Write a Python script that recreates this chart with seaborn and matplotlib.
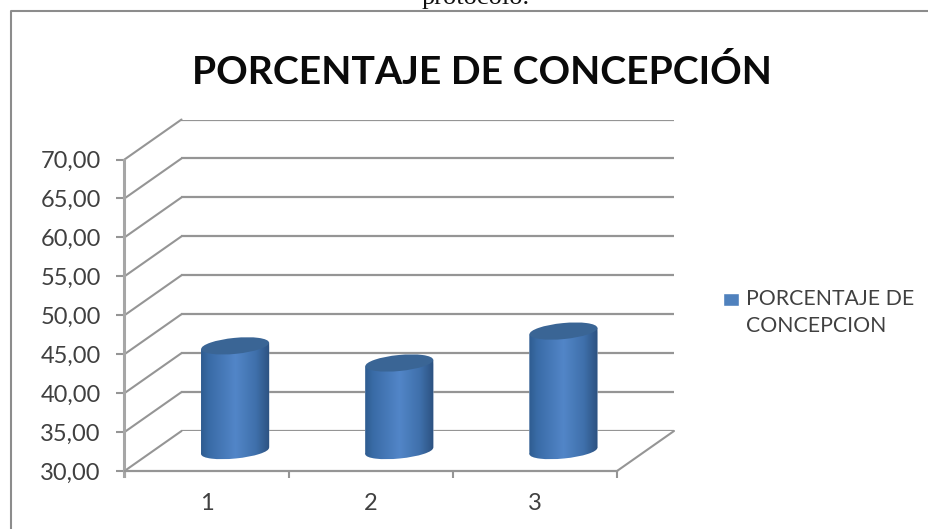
import numpy as np
import pandas as pd
import seaborn as sns
import matplotlib
matplotlib.use("Agg")
import matplotlib.pyplot as plt
from matplotlib.colors import LinearSegmentedColormap
from matplotlib.lines import Line2D
from matplotlib.patches import ConnectionPatch, Ellipse
from matplotlib.path import Path
from matplotlib.transforms import IdentityTransform

categories = ["1", "2", "3"]
values = [43.5, 41.3, 45.4]
y_ticks = [30, 35, 40, 45, 50, 55, 60, 65, 70]
y_tick_labels = ["30,00", "35,00", "40,00", "45,00", "50,00", "55,00", "60,00", "65,00", "70,00"]
title = "PORCENTAJE DE CONCEPCIÓN"
legend_label = "PORCENTAJE DE\nCONCEPCION"
caption = "protocolo."

W, H = 929, 529
sns.set_style("white")
plt.rcParams["font.family"] = ["Lato", "DejaVu Sans"]
GRID = "#959595"
TEXT = "#404040"

fig = plt.figure(figsize=(W / 100, H / 100), dpi=100, facecolor="white")


def axes_px(left, right, top, bottom):
    return fig.add_axes([left / W, 1 - bottom / H, (right - left) / W, (bottom - top) / H])


L, R, T, B = 124.5, 617, 159.5, 471
DX, DY = 57, 40

# back wall
back = axes_px(L + DX, R + DX, T - DY, B - DY)
back.set_zorder(1)
back.set_ylim(30, 70)
back.set_xlim(-0.5, 2.5)
back.set_yticks(y_ticks)
back.set_xticks([])
back.set_yticklabels([])
back.grid(axis="y", color=GRID, lw=1.6)
back.grid(axis="x", visible=False)
back.patch.set_alpha(0)
sns.despine(ax=back, left=True, bottom=True)

# front plane with axes and ticks
ax = axes_px(L, R, T, B)
ax.set_zorder(2)
ax.patch.set_alpha(0)
ax.set_ylim(30, 70)
ax.set_xlim(-0.5, 2.5)
ax.set_yticks(y_ticks)
ax.set_yticklabels(y_tick_labels, fontsize=17, color=TEXT)
ax.set_xticks([-0.5, 0.5, 1.5, 2.5])
ax.set_xticklabels([])
ax.set_xticks([0, 1, 2], categories, minor=True, fontsize=17, color=TEXT)
ax.tick_params(axis="y", length=6, width=1.5, color=GRID, pad=11, left=True)
ax.tick_params(axis="x", which="major", length=5, width=1.5, color=GRID, bottom=True)
ax.tick_params(axis="x", which="minor", length=0, pad=16)
sns.despine(ax=ax)
ax.spines["left"].set(color="#a6a6a6", lw=2.2)
ax.spines["left"].set_bounds(29.3, 70)
ax.spines["bottom"].set(color=GRID, lw=1.6)

# depth connectors
for v in y_ticks:
    fig.add_artist(ConnectionPatch((-0.5, v), (-0.5, v), coordsA=ax.transData, coordsB=back.transData,
                                   color=GRID, lw=1.5, zorder=1.5))
fig.add_artist(ConnectionPatch((2.5, 30), (2.5, 30), coordsA=ax.transData, coordsB=back.transData,
                               color=GRID, lw=1.5, zorder=1.5))

# mid-depth plane with the cylinders
bars = axes_px(L + DX / 2, R + DX / 2, T - DY / 2, B - DY / 2)
bars.set_zorder(5)
bars.patch.set_alpha(0)
df = pd.DataFrame({"Muestra": categories, "Porcentaje": values})
sns.barplot(data=df, x="Muestra", y="Porcentaje", ax=bars, color="#4F81BD", width=0.415,
            saturation=1, label=legend_label)
legend_handles, legend_labels = bars.get_legend_handles_labels()
if bars.get_legend():
    bars.get_legend().remove()
bars.set_xlim(-0.5, 2.5)
bars.set_ylim(30, 70)
bars.axis("off")

cmap = LinearSegmentedColormap.from_list(
    "cyl", [(0, "#2F5C90"), (0.12, "#3A6CA7"), (0.5, "#5286C8"), (0.8, "#3F70AB"), (1, "#2C5180")])
grad = np.linspace(0, 1, 128).reshape(1, -1)
TILT = 5.6
EH = 15
for patch, v in zip(list(bars.patches), values):
    x0, x1 = patch.get_x(), patch.get_x() + patch.get_width()
    px0, py_base = bars.transData.transform((x0, 30))
    px1, py_top = bars.transData.transform((x1, v))
    cx = (px0 + px1) / 2
    w = px1 - px0
    lift = np.tan(np.radians(TILT)) * w / 2
    body = Path([(px0, py_base - lift), (px1, py_base + lift), (px1, py_top + lift),
                 (px0, py_top - lift), (px0, py_base - lift)], closed=True)
    patch.set_clip_path(body, IdentityTransform())
    im = bars.imshow(grad, cmap=cmap, aspect="auto", extent=(x0, x1, 25, v + 3), zorder=3)
    im.set_clip_path(body, IdentityTransform())
    im.set_clip_box(fig.bbox)
    bottom = Ellipse((cx, py_base), w, EH, angle=TILT, transform=IdentityTransform(),
                     fc="none", ec="none", clip_on=False)
    bars.add_artist(bottom)
    im2 = bars.imshow(grad, cmap=cmap, aspect="auto", extent=(x0, x1, 25, v + 3), zorder=3)
    im2.set_clip_path(bottom.get_path(), bottom.get_transform())
    im2.set_clip_box(fig.bbox)
    bars.add_artist(Ellipse((cx, py_top), w, EH + 1, angle=TILT, transform=IdentityTransform(),
                            fc="#3A6595", ec="none", clip_on=False, zorder=4))
bars.set_xlim(-0.5, 2.5)
bars.set_ylim(30, 70)

# legend
leg = fig.legend(legend_handles, [legend_label], loc="upper left",
                 bbox_to_anchor=(723 / W, 1 - 289 / H), frameon=False, fontsize=15.3,
                 handlelength=0.75, handleheight=0.56, handletextpad=0.33, labelcolor=TEXT,
                 borderpad=0, borderaxespad=0, labelspacing=0)
leg.get_texts()[0].set_linespacing(1.45)
handle = leg.legend_handles[0]
handle.set_y(handle.get_y() + 10)

# title, caption and chart frame
fig.text(482 / W, 1 - 84 / H, title, ha="center", va="baseline", fontsize=28.2,
         fontweight="bold", color="#0a0a0a")
fig.text(476 / W, 1 - 4 / H, caption, ha="center", va="baseline", fontsize=19,
         family="Liberation Serif", color="#111111")
fig.add_artist(Line2D([11 / W, 11 / W, 1], [0, 1 - 11 / H, 1 - 11 / H], color="#8c8c8c", lw=1.5,
                      transform=fig.transFigure))

fig.savefig("out.png", dpi=100, facecolor="white")
